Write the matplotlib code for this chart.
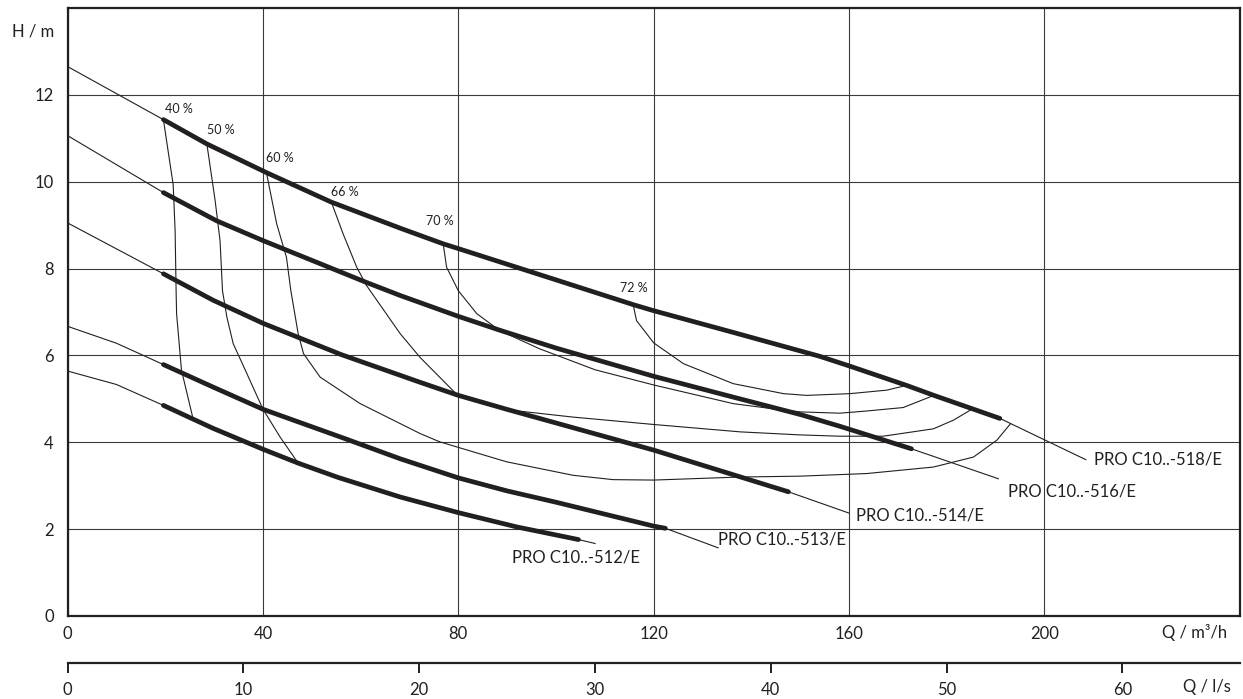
import matplotlib.pyplot as plt

plt.rcParams['font.family'] = ['Lato', 'DejaVu Sans']

INK = '#231f20'

# pump curves, Q in m3/h, H in m (thin from Q=0, thick over the working range)
q_518 = [0, 19.6, 28.5, 40.7, 54.0, 68.1, 76.9, 80.0, 100.0, 115.8, 120.0, 136.3, 154.0, 160.0, 171.8, 177.4, 185.3, 190.9, 208.5]
h_518 = [12.65, 11.43, 10.87, 10.21, 9.53, 8.93, 8.57, 8.46, 7.74, 7.17, 7.03, 6.53, 5.98, 5.76, 5.31, 5.08, 4.77, 4.55, 3.6]
q_516 = [0, 19.6, 30.5, 40.1, 61.2, 68.1, 80.0, 88.5, 100.0, 120.0, 136.3, 150.0, 158.1, 172.8, 190.6]
h_516 = [11.06, 9.75, 9.10, 8.64, 7.68, 7.38, 6.90, 6.58, 6.17, 5.52, 5.04, 4.64, 4.37, 3.85, 3.16]
q_514 = [0, 19.6, 29.8, 40.0, 56.0, 72.2, 80.0, 89.9, 120.0, 147.6, 160.0]
h_514 = [9.05, 7.88, 7.27, 6.74, 6.02, 5.38, 5.08, 4.76, 3.82, 2.86, 2.37]
q_513 = [0, 10.0, 19.6, 29.8, 40.0, 56.4, 68.1, 80.0, 90.0, 100.0, 120.0, 122.4, 133.2]
h_513 = [6.67, 6.28, 5.79, 5.27, 4.76, 4.10, 3.62, 3.18, 2.88, 2.62, 2.07, 2.02, 1.57]
q_512 = [0, 10.0, 19.6, 29.8, 40.0, 47.2, 55.4, 68.1, 80.0, 92.0, 104.6, 108.0]
h_512 = [5.64, 5.33, 4.85, 4.32, 3.84, 3.52, 3.19, 2.74, 2.38, 2.05, 1.76, 1.67]

pump_names = ['PRO C10..-518/E', 'PRO C10..-516/E', 'PRO C10..-514/E',
              'PRO C10..-513/E', 'PRO C10..-512/E']
q_start = [19.6, 19.6, 19.6, 19.6, 19.6]
q_end = [190.9, 172.8, 147.6, 122.4, 104.6]

# iso-efficiency lines
q_eff40 = [19.6, 21.6, 22.0, 22.2, 22.3, 23.3, 25.7]
h_eff40 = [11.43, 9.93, 8.87, 7.49, 6.96, 5.66, 4.53]
q_eff50 = [28.5, 30.2, 31.2, 31.7, 32.6, 33.9, 36.7, 40.0, 43.5, 47.2]
h_eff50 = [10.87, 9.56, 8.64, 7.49, 6.88, 6.27, 5.58, 4.76, 4.12, 3.52]
q_eff60 = [40.7, 42.8, 44.8, 45.7, 47.2, 48.3, 51.7, 59.9, 72.2, 76.2, 89.9, 103.5,
           111.7, 120.0, 137.7, 150.0, 163.6, 177.3, 185.5, 190.3, 193.1]
h_eff60 = [10.21, 9.03, 8.26, 7.49, 6.5, 6.04, 5.5, 4.89, 4.2, 4.01, 3.55, 3.24,
           3.14, 3.13, 3.2, 3.22, 3.28, 3.43, 3.66, 4.05, 4.43]
q_eff66 = [54.0, 56.4, 59.2, 61.2, 68.1, 72.2, 79.7, 89.9, 103.5, 120.0, 137.7,
           150.0, 158.1, 167.0, 177.3, 181.4, 185.3]
h_eff66 = [9.53, 8.8, 8.03, 7.61, 6.5, 5.95, 5.1, 4.75, 4.58, 4.41, 4.24,
           4.17, 4.14, 4.14, 4.31, 4.51, 4.77]
q_eff70 = [76.9, 77.6, 80.0, 83.8, 88.5, 96.7, 108.0, 120.0, 136.3, 144.5, 150.0,
           158.1, 163.6, 171.1, 177.4]
h_eff70 = [8.57, 8.03, 7.49, 6.96, 6.57, 6.15, 5.67, 5.32, 4.89, 4.77, 4.70,
           4.67, 4.72, 4.8, 5.08]
q_eff72 = [115.8, 116.5, 120.0, 126.1, 136.3, 146.6, 151.3, 160.2, 167.7, 171.8]
h_eff72 = [7.17, 6.8, 6.29, 5.81, 5.35, 5.12, 5.08, 5.12, 5.2, 5.31]
eff_labels = ['40 %', '50 %', '60 %', '66 %', '70 %', '72 %']

fig = plt.figure(figsize=(12.43, 6.99), dpi=100)
ax = fig.add_axes([67.7 / 1243, 83 / 699, 1171.9 / 1243, 608 / 699])
ax.set_xlim(0, 240)
ax.set_ylim(0, 14)
ax.set_xticks([0, 40, 80, 120, 160, 200])
ax.set_yticks([0, 2, 4, 6, 8, 10, 12])
ax.grid(True, color='#3a3a3a', lw=0.8)
ax.set_axisbelow(True)
ax.tick_params(length=0, labelsize=12, colors=INK)
ax.tick_params(axis='x', pad=7)
ax.tick_params(axis='y', pad=10)
for s in ax.spines.values():
    s.set_linewidth(1.6)
    s.set_color(INK)

curves = [(q_518, h_518), (q_516, h_516), (q_514, h_514), (q_513, h_513), (q_512, h_512)]
label_offsets = [(8, 0), (10, -13), (7, -2), (0, 8), (-19, -14)]
label_ha = ['left', 'left', 'left', 'left', 'center']
for (q, h), lo, hi, name, off, ha in zip(curves, q_start, q_end, pump_names,
                                         label_offsets, label_ha):
    ax.plot(q, h, color=INK, lw=0.8)
    qt = [a for a in q if lo <= a <= hi]
    ht = [b for a, b in zip(q, h) if lo <= a <= hi]
    ax.plot(qt, ht, color=INK, lw=3.4, solid_capstyle='round',
            solid_joinstyle='round', zorder=4)
    ax.annotate(name, (q[-1], h[-1]), xytext=off, textcoords='offset pixels',
                ha=ha, va='center', fontsize=12, color=INK)

effs = [(q_eff40, h_eff40), (q_eff50, h_eff50), (q_eff60, h_eff60),
        (q_eff66, h_eff66), (q_eff70, h_eff70), (q_eff72, h_eff72)]
eff_offsets = [(2, 11), (0, 14), (0, 15), (0, 10), (-17, 23), (-13, 17)]
for (q, h), lab, off in zip(effs, eff_labels, eff_offsets):
    ax.plot(q, h, color=INK, lw=0.8, zorder=3, solid_joinstyle='round')
    ax.annotate(lab, (q[0], h[0]), xytext=off, textcoords='offset pixels',
                ha='left', va='center', fontsize=9, color=INK)

# second flow scale in l/s
ax2 = fig.add_axes([67.7 / 1243, 36 / 699, 1171.9 / 1243, 1 / 699])
ax2.set_xlim(0, 240 / 3.6)
ax2.set_xticks([0, 10, 20, 30, 40, 50, 60])
ax2.set_yticks([])
for side in ['left', 'right', 'top']:
    ax2.spines[side].set_visible(False)
ax2.spines['bottom'].set_linewidth(1.6)
ax2.spines['bottom'].set_color(INK)
ax2.patch.set_visible(False)
ax2.tick_params(axis='x', direction='out', length=7, width=1.4, pad=7,
                labelsize=12, colors=INK)

fig.text(12 / 1243, 1 - 31.7 / 699, 'H / m', ha='left', va='center', fontsize=12, color=INK)
fig.text(1226.7 / 1243, 1 - 632.7 / 699, 'Q / m³/h', ha='right', va='center', fontsize=12, color=INK)
fig.text(1231 / 1243, 1 - 687 / 699, 'Q / l/s', ha='right', va='center', fontsize=12, color=INK)

fig.savefig('out.png', dpi=100)
